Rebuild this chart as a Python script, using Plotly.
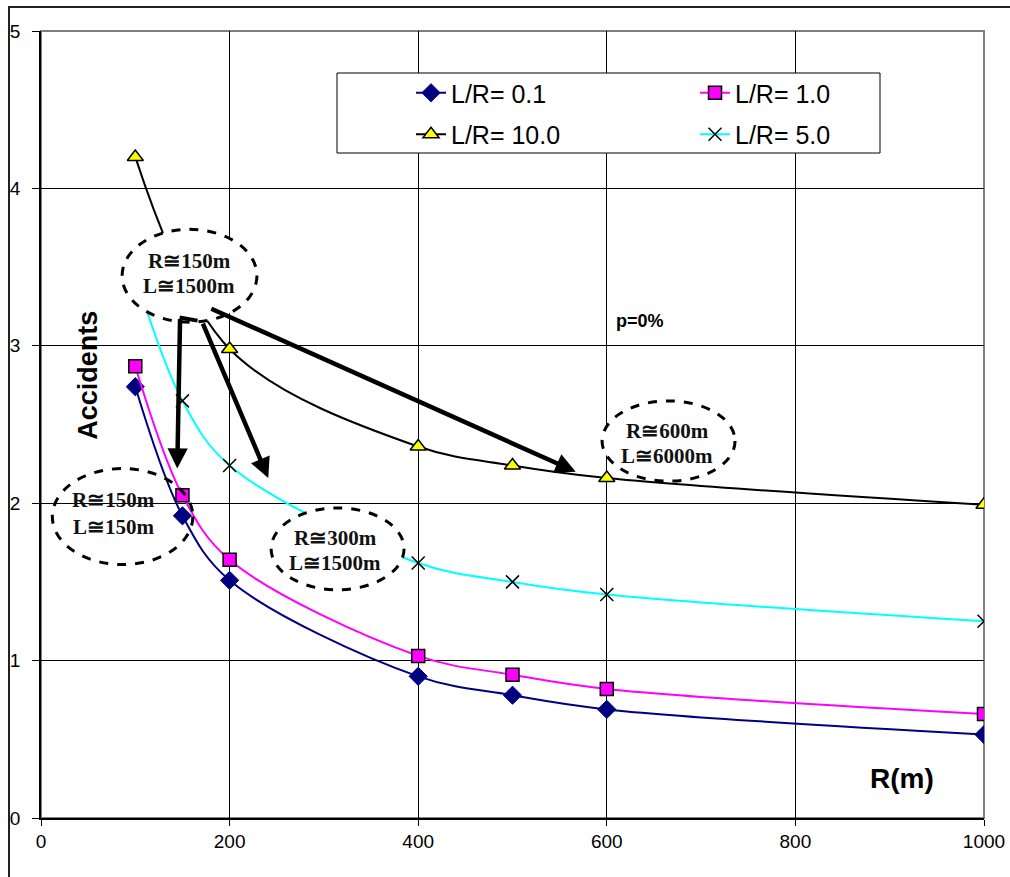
import plotly.graph_objects as go

# Curve radius R (m)
radius = [100, 150, 200, 400, 500, 600, 1000]
radius_10 = [100, 200, 400, 500, 600, 1000]

# Accidents for each L/R ratio
acc_lr_01 = [2.74, 1.92, 1.51, 0.90, 0.78, 0.69, 0.53]
acc_lr_1 = [2.87, 2.05, 1.64, 1.03, 0.91, 0.82, 0.66]
acc_lr_10 = [4.20, 2.98, 2.36, 2.24, 2.16, 1.99]
acc_lr_5 = [3.45, 2.65, 2.24, 1.62, 1.50, 1.42, 1.25]

y_ticks = [0, 1, 2, 3, 4, 5]
x_ticks = [0, 200, 400, 600, 800, 1000]

W, H = 1010, 877
ML, MR, MT, MB = 41, 26, 31, 59

fig = go.Figure()

line_kw = dict(shape="spline", smoothing=1.0, width=2)

fig.add_trace(go.Scatter(
    x=radius, y=acc_lr_01, name="L/R= 0.1", mode="lines+markers",
    line=dict(color="#000080", **line_kw),
    marker=dict(symbol="diamond", size=14, color="#000080",
                line=dict(color="#000080", width=1)),
    legend="legend", legendgroup="a"))
fig.add_trace(go.Scatter(
    x=radius_10, y=acc_lr_10, name="L/R= 10.0", mode="lines+markers",
    line=dict(color="#000000", **line_kw),
    marker=dict(symbol="triangle-up", size=14, color="#FFFF00",
                line=dict(color="#000000", width=1.5)),
    legend="legend", legendgroup="b"))
fig.add_trace(go.Scatter(
    x=radius, y=acc_lr_1, name="L/R= 1.0", mode="lines+markers",
    line=dict(color="#FF00FF", **line_kw),
    marker=dict(symbol="square", size=13, color="#FF00FF",
                line=dict(color="#000000", width=1.5)),
    legend="legend2", legendgroup="c"))
fig.add_trace(go.Scatter(
    x=radius, y=acc_lr_5, name="L/R= 5.0", mode="lines+markers",
    line=dict(color="#00FFFF", **line_kw),
    marker=dict(symbol="x-thin", size=13, color="#000000",
                line=dict(color="#000000", width=1.5)),
    legend="legend2", legendgroup="d"))

pw = W - ML - MR
ph = H - MT - MB


def px_x(p):
    return (p - ML) / pw


def px_y(p):
    return (H - MB - p) / ph


shapes = []
# outer chart border (left and top edges)
shapes.append(dict(type="path", xref="paper", yref="paper",
                   path="M %f,%f L %f,%f L %f,%f" % (
                       px_x(9), px_y(880), px_x(9), px_y(7),
                       px_x(1010), px_y(7)),
                   line=dict(color="#222222", width=2), layer="below"))
# plot-area frame
shapes.append(dict(type="rect", xref="paper", yref="paper",
                   x0=0, x1=1, y0=0, y1=1,
                   line=dict(color="#808080", width=2), layer="below"))
# legend box
shapes.append(dict(type="rect", xref="paper", yref="paper",
                   x0=px_x(337), x1=px_x(880), y0=px_y(153), y1=px_y(73),
                   line=dict(color="#000000", width=1), fillcolor="white",
                   layer="above"))

# dashed callout ellipses (x0, x1, y0, y1 in data units, filled)
ellipses = [
    (86, 229, 3.15, 3.74, True),
    (12, 161, 1.61, 2.22, False),
    (244, 385, 1.45, 1.97, True),
    (595, 736, 2.14, 2.65, True),
]
for x0, x1, y0, y1, filled in ellipses:
    shapes.append(dict(type="circle", xref="x", yref="y",
                       x0=x0, x1=x1, y0=y0, y1=y1,
                       line=dict(color="#000000", width=3, dash="dash"),
                       fillcolor="white" if filled else "rgba(0,0,0,0)",
                       layer="above"))
# short bar joining the arrow tails
shapes.append(dict(type="line", xref="x", yref="y",
                   x0=147, y0=3.18, x1=166, y1=3.16,
                   line=dict(color="#000000", width=4), layer="above"))

serif = dict(family="Liberation Serif, Times New Roman, serif", size=21,
             color="#111111")
annotations = []
callouts = [
    (157, 3.54, "R≅150m"), (157, 3.38, "L≅1500m"),
    (77, 2.02, "R≅150m"), (77, 1.85, "L≅150m"),
    (312, 1.78, "R≅300m"), (312, 1.62, "L≅1500m"),
    (664, 2.46, "R≅600m"), (664, 2.30, "L≅6000m"),
]
for x, y, t in callouts:
    annotations.append(dict(x=x, y=y, xref="x", yref="y", text="<b>%s</b>" % t,
                            showarrow=False, font=serif))

# thick arrows from the upper callout
arrows = [
    ((147.5, 3.18), (144.5, 2.22)),
    ((171, 3.15), (241, 2.16)),
    ((179, 3.24), (567, 2.20)),
]
for (tx, ty), (hx, hy) in arrows:
    annotations.append(dict(x=hx, y=hy, ax=tx, ay=ty, xref="x", yref="y",
                            axref="x", ayref="y", text="", showarrow=True,
                            arrowhead=2, arrowsize=0.9, arrowwidth=4.5,
                            arrowcolor="#000000", standoff=0))

sans_b = "Liberation Sans, Arial, sans-serif"
annotations.append(dict(x=50, y=2.81, xref="x", yref="y",
                        text="<b>Accidents</b>", textangle=-90,
                        showarrow=False, font=dict(family=sans_b, size=27,
                                                   color="#000000")))
annotations.append(dict(x=913, y=0.25, xref="x", yref="y",
                        text="<b>R(m)</b>", showarrow=False,
                        font=dict(family=sans_b, size=28, color="#000000")))
annotations.append(dict(x=635, y=3.16, xref="x", yref="y",
                        text="<b>p=0%</b>", showarrow=False,
                        font=dict(family=sans_b, size=18, color="#000000")))

fig.update_layout(
    width=W, height=H,
    margin=dict(l=ML, r=MR, t=MT, b=MB, autoexpand=False),
    paper_bgcolor="white", plot_bgcolor="white",
    shapes=shapes, annotations=annotations,
    legend=dict(x=px_x(411), y=px_y(70), xanchor="left", yanchor="top",
                bgcolor="rgba(0,0,0,0)", borderwidth=0, tracegroupgap=6,
                font=dict(family=sans_b, size=25, color="#000000")),
    legend2=dict(x=px_x(695), y=px_y(70), xanchor="left", yanchor="top",
                 bgcolor="rgba(0,0,0,0)", borderwidth=0, tracegroupgap=6,
                 font=dict(family=sans_b, size=25, color="#000000")),
    xaxis=dict(range=[0, 1000], tickvals=x_ticks, showgrid=True,
               automargin=False,
               gridcolor="#000000", gridwidth=1, zeroline=False,
               showline=True, linecolor="#000000", linewidth=1.5,
               ticks="outside", ticklen=6, tickcolor="#000000",
               tickfont=dict(family=sans_b, size=19, color="#000000"),
               ticklabelstandoff=-1),
    yaxis=dict(range=[0, 5], tickvals=y_ticks, showgrid=True,
               automargin=False,
               gridcolor="#000000", gridwidth=1, zeroline=False,
               showline=True, linecolor="#000000", linewidth=1.5,
               ticks="outside", ticklen=7, tickcolor="#000000",
               tickfont=dict(family=sans_b, size=19, color="#000000"),
               ticklabelstandoff=8),
)

fig.write_html("out.html")
